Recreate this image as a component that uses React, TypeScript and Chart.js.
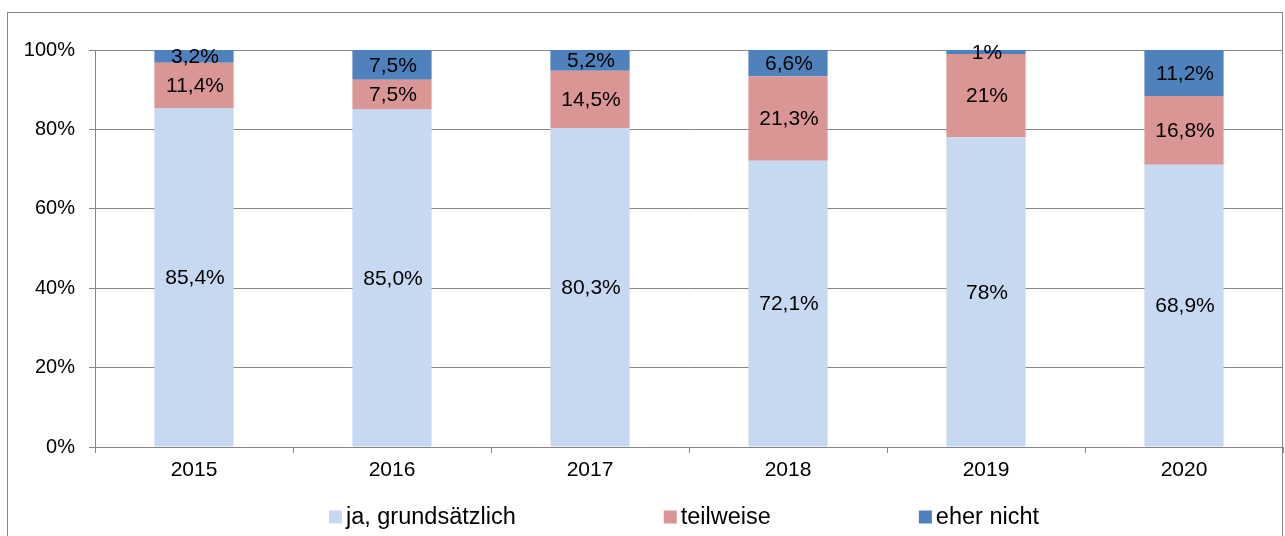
import React, { useEffect, useRef } from "react";
import { Chart, registerables } from "chart.js";

Chart.register(...registerables);

const categories = ["2015", "2016", "2017", "2018", "2019", "2020"];
const jaGrundsaetzlich = [85.4, 85.0, 80.3, 72.1, 78, 68.9];
const teilweise = [11.4, 7.5, 14.5, 21.3, 21, 16.8];
const eherNicht = [3.2, 7.5, 5.2, 6.6, 1, 11.2];
const labelDecimals = [1, 1, 1, 1, 0, 1];
const seriesNames = ["ja, grundsätzlich", "teilweise", "eher nicht"];
const seriesColors = ["#C6D9F1", "#D99694", "#4F81BD"];
const yTickStep = 20;

const FONT = "'Liberation Sans', Arial, sans-serif";
const GRAY = "#868686";

const rawSeries = [jaGrundsaetzlich, teilweise, eherNicht];
const totals = categories.map((_, i) => rawSeries.reduce((s, arr) => s + arr[i], 0));

const fmt = (v: number, d: number) => v.toFixed(d).replace(".", ",") + "%";

const framePlugin = {
  id: "frame",
  afterDraw(chart: any) {
    const ctx = chart.ctx;
    ctx.save();
    ctx.strokeStyle = GRAY;
    ctx.lineWidth = 1;
    ctx.strokeRect(7.5, 12.5, 1275, 600);
    ctx.restore();
  },
};

const valueLabelPlugin = {
  id: "valueLabels",
  afterDatasetsDraw(chart: any) {
    const ctx = chart.ctx;
    ctx.save();
    ctx.font = `21px ${FONT}`;
    ctx.fillStyle = "#000";
    ctx.textAlign = "center";
    ctx.textBaseline = "middle";
    chart.data.datasets.forEach((ds: any, di: number) => {
      const meta = chart.getDatasetMeta(di);
      meta.data.forEach((el: any, i: number) => {
        const { x, y, base } = el.getProps(["x", "y", "base"], true);
        const raw = rawSeries[di][i];
        ctx.fillText(fmt(raw, labelDecimals[i]), x + 1, (y + base) / 2 + 1);
      });
    });
    ctx.restore();
  },
};

const legendPlugin = {
  id: "customLegend",
  afterDraw(chart: any) {
    const ctx = chart.ctx;
    const area = chart.chartArea;
    ctx.save();
    ctx.font = `23.5px ${FONT}`;
    const box = 13;
    const gapText = 4;
    const gapItem = 148;
    const widths = seriesNames.map((n) => box + gapText + ctx.measureText(n).width);
    const total = widths.reduce((a, b) => a + b, 0) + gapItem * (widths.length - 1);
    let x = (area.left + area.right) / 2 - total / 2 - 5;
    const cy = 517;
    seriesNames.forEach((n, i) => {
      ctx.fillStyle = seriesColors[i];
      ctx.fillRect(x, cy - box / 2, box, box);
      ctx.fillStyle = "#000";
      ctx.textAlign = "left";
      ctx.textBaseline = "middle";
      ctx.fillText(n, x + box + gapText, cy + 1);
      x += widths[i] + gapItem;
    });
    ctx.restore();
  },
};

export default function App() {
  const ref = useRef<HTMLCanvasElement | null>(null);

  useEffect(() => {
    if (!ref.current) return;
    const chart = new Chart(ref.current, {
      type: "bar",
      data: {
        labels: categories,
        datasets: rawSeries.map((arr, di) => ({
          label: seriesNames[di],
          data: arr.map((v, i) => (v / totals[i]) * 100),
          backgroundColor: seriesColors[di],
          borderWidth: 0,
          barPercentage: 0.4,
          categoryPercentage: 1,
        })),
      },
      options: {
        responsive: false,
        animation: false,
        layout: { padding: { top: 50, right: 2, bottom: 49, left: 0 } },
        plugins: {
          legend: { display: false },
          tooltip: { enabled: false },
        },
        scales: {
          x: {
            stacked: true,
            offset: true,
            grid: {
              display: true,
              drawOnChartArea: false,
              drawTicks: true,
              tickLength: 6,
              color: GRAY,
              offset: true,
            },
            border: { color: GRAY },
            ticks: { color: "#000", font: { size: 21, family: FONT }, padding: 5, maxRotation: 0 },
            afterFit: (s: any) => {
              s.height = 40;
            },
          },
          y: {
            stacked: true,
            min: 0,
            max: 100,
            grid: { color: GRAY, tickLength: 6, drawTicks: true },
            border: { color: GRAY },
            ticks: {
              stepSize: yTickStep,
              color: "#000",
              font: { size: 20, family: FONT },
              padding: 14,
              callback: (v: any) => v + "%",
            },
            afterFit: (s: any) => {
              s.width = 95;
            },
          },
        },
      },
      plugins: [valueLabelPlugin, legendPlugin, framePlugin],
    });
    return () => chart.destroy();
  }, []);

  return (
    <div style={{ position: "absolute", left: 0, top: 0, width: 1285, height: 536 }}>
      <canvas ref={ref} width={1285} height={536} style={{ width: 1285, height: 536 }} />
    </div>
  );
}
